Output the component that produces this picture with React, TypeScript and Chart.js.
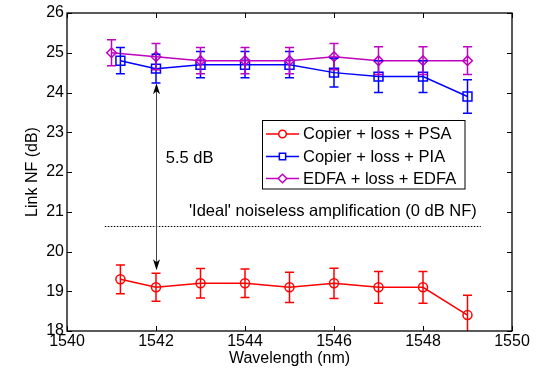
import React, { useEffect, useRef } from "react";
import { Chart, registerables } from "chart.js";

Chart.register(...registerables);

const FONT = '"Liberation Sans", Arial, Helvetica, sans-serif';

const xPsa = [1541.2, 1542, 1543, 1544, 1545, 1546, 1547, 1548, 1549];
const psaNF = [19.3, 19.1, 19.2, 19.2, 19.1, 19.2, 19.1, 19.1, 18.4];
const psaErr = [0.36, 0.35, 0.37, 0.36, 0.38, 0.38, 0.4, 0.4, 0.5];

const xPia = [1541.2, 1542, 1543, 1544, 1545, 1546, 1547, 1548, 1549];
const piaNF = [24.8, 24.6, 24.7, 24.7, 24.7, 24.5, 24.4, 24.4, 23.9];
const piaErr = [0.33, 0.36, 0.33, 0.33, 0.33, 0.36, 0.4, 0.4, 0.42];

const xEdfa = [1541.0, 1542, 1543, 1544, 1545, 1546, 1547, 1548, 1549];
const edfaNF = [25.0, 24.9, 24.8, 24.8, 24.8, 24.9, 24.8, 24.8, 24.8];
const edfaErr = [0.33, 0.33, 0.33, 0.33, 0.33, 0.33, 0.35, 0.35, 0.35];

const seriesLabels = ["Copier + loss + PSA", "Copier + loss + PIA", "EDFA + loss + EDFA"];
const seriesColors = ["#ff0000", "#0000ff", "#bf00bf"];
const seriesMarkers = ["circle", "rect", "rectRot"];
const markerRadius = [4.5, 6.3, 4.8];

const xTicks = [1540, 1542, 1544, 1546, 1548, 1550];
const yTicks = [18, 19, 20, 21, 22, 23, 24, 25, 26];

const idealLevel = 20.65;
const idealRange = [1540.85, 1549.3];
const idealText = "'Ideal' noiseless amplification (0 dB NF)";
const idealTextPos = [1542.74, 21.02];

const gapX = 1542;
const gapRange = [24.23, 19.53];
const gapText = "5.5 dB";
const gapTextPos = [1542.22, 22.35];

const errs = [psaErr, piaErr, edfaErr];

function drawArrowHead(ctx: CanvasRenderingContext2D, x: number, y: number, dir: number) {
  const len = 11;
  const hw = 3.5;
  ctx.beginPath();
  ctx.moveTo(x, y);
  ctx.lineTo(x - hw, y - dir * len);
  ctx.lineTo(x, y - dir * (len - 3));
  ctx.lineTo(x + hw, y - dir * len);
  ctx.closePath();
  ctx.fill();
}

const customPlugin = {
  id: "custom",
  beforeDatasetsDraw(chart: any) {
    const { ctx, scales } = chart;
    const xs = scales.x;
    const ys = scales.y;
    ctx.save();
    ctx.strokeStyle = "#000";
    ctx.lineWidth = 1.2;
    ctx.setLineDash([1.5, 1.5]);
    const yi = Math.round(ys.getPixelForValue(idealLevel)) + 0.5;
    ctx.beginPath();
    ctx.moveTo(xs.getPixelForValue(idealRange[0]), yi);
    ctx.lineTo(xs.getPixelForValue(idealRange[1]), yi);
    ctx.stroke();
    ctx.setLineDash([]);
    const ax = Math.round(xs.getPixelForValue(gapX)) + 0.5;
    const y1 = ys.getPixelForValue(gapRange[0]);
    const y2 = ys.getPixelForValue(gapRange[1]);
    ctx.strokeStyle = "#444";
    ctx.lineWidth = 1;
    ctx.beginPath();
    ctx.moveTo(ax, y1 + 5);
    ctx.lineTo(ax, y2 - 5);
    ctx.stroke();
    ctx.fillStyle = "#000";
    drawArrowHead(ctx, ax, y1, -1);
    drawArrowHead(ctx, ax, y2, 1);
    ctx.font = `16.5px ${FONT}`;
    ctx.textBaseline = "middle";
    ctx.textAlign = "left";
    ctx.fillStyle = "#000";
    ctx.fillText(gapText, xs.getPixelForValue(gapTextPos[0]), ys.getPixelForValue(gapTextPos[1]));
    ctx.fillText(idealText, xs.getPixelForValue(idealTextPos[0]), ys.getPixelForValue(idealTextPos[1]));
    ctx.restore();
  },
  afterDatasetsDraw(chart: any) {
    const { ctx, chartArea: a, scales } = chart;
    const xs = scales.x;
    const ys = scales.y;
    ctx.save();
    ctx.beginPath();
    ctx.rect(a.left, a.top, a.right - a.left, a.bottom - a.top);
    ctx.clip();
    chart.data.datasets.forEach((ds: any, i: number) => {
      const e = errs[i];
      ctx.strokeStyle = ds.borderColor;
      ctx.lineWidth = 1.5;
      ds.data.forEach((p: any, j: number) => {
        const px = xs.getPixelForValue(p.x);
        const top = ys.getPixelForValue(p.y + e[j]);
        const bot = ys.getPixelForValue(p.y - e[j]);
        ctx.beginPath();
        ctx.moveTo(px, top);
        ctx.lineTo(px, bot);
        ctx.moveTo(px - 4.5, top);
        ctx.lineTo(px + 4.5, top);
        ctx.moveTo(px - 4.5, bot);
        ctx.lineTo(px + 4.5, bot);
        ctx.stroke();
      });
    });
    ctx.restore();
  },
  afterDraw(chart: any) {
    const { ctx, chartArea: a, scales } = chart;
    const xs = scales.x;
    const ys = scales.y;
    ctx.save();
    ctx.strokeStyle = "#000";
    ctx.lineWidth = 1.3;
    ctx.strokeRect(a.left, a.top, a.right - a.left, a.bottom - a.top);
    const tl = 5;
    ctx.lineWidth = 1;
    ctx.beginPath();
    xTicks.forEach((v) => {
      const px = Math.round(xs.getPixelForValue(v)) + 0.5;
      ctx.moveTo(px, a.bottom);
      ctx.lineTo(px, a.bottom - tl);
      ctx.moveTo(px, a.top);
      ctx.lineTo(px, a.top + tl);
    });
    yTicks.forEach((v) => {
      const py = Math.round(ys.getPixelForValue(v)) + 0.5;
      ctx.moveTo(a.left, py);
      ctx.lineTo(a.left + tl, py);
      ctx.moveTo(a.right, py);
      ctx.lineTo(a.right - tl, py);
    });
    ctx.stroke();
    const lx = 262.5, ly = 120.5, lw = 202.5, lh = 68.5;
    ctx.fillStyle = "#fff";
    ctx.fillRect(lx, ly, lw, lh);
    ctx.strokeStyle = "#000";
    ctx.lineWidth = 1;
    ctx.strokeRect(lx, ly, lw, lh);
    const rows = [134, 156.5, 178.5];
    ctx.font = `16.5px ${FONT}`;
    ctx.textBaseline = "middle";
    ctx.textAlign = "left";
    chart.data.datasets.forEach((ds: any, i: number) => {
      const ry = rows[i];
      ctx.strokeStyle = ds.borderColor;
      ctx.lineWidth = 1.5;
      ctx.beginPath();
      ctx.moveTo(266, ry);
      ctx.lineTo(299, ry);
      ctx.stroke();
      const mr = i === 1 ? 4.2 : i === 0 ? 3.8 : 4.3;
      ctx.beginPath();
      if (i === 0) {
        ctx.arc(282.5, ry, mr, 0, Math.PI * 2);
      } else if (i === 1) {
        ctx.rect(282.5 - mr * 0.75, ry - mr * 0.75, mr * 1.5, mr * 1.5);
      } else {
        ctx.moveTo(282.5, ry - mr);
        ctx.lineTo(282.5 + mr, ry);
        ctx.lineTo(282.5, ry + mr);
        ctx.lineTo(282.5 - mr, ry);
        ctx.closePath();
      }
      ctx.fillStyle = "#fff";
      ctx.fill();
      ctx.stroke();
      ctx.fillStyle = "#000";
      ctx.fillText(ds.label, 303, ry + 0.5);
    });
    ctx.restore();
  },
};

export default function App() {
  const ref = useRef<HTMLCanvasElement>(null);
  useEffect(() => {
    if (!ref.current) return;
    const mk = (xv: number[], yv: number[]) => xv.map((x, i) => ({ x, y: yv[i] }));
    const dataSets = [mk(xPsa, psaNF), mk(xPia, piaNF), mk(xEdfa, edfaNF)];
    const chart = new Chart(ref.current, {
      type: "line",
      data: {
        datasets: dataSets.map((d, i) => ({
          label: seriesLabels[i],
          data: d,
          borderColor: seriesColors[i],
          backgroundColor: "transparent",
          borderWidth: 1.5,
          pointStyle: seriesMarkers[i] as any,
          pointRadius: markerRadius[i],
          pointBorderWidth: 1.5,
          pointBorderColor: seriesColors[i],
          pointBackgroundColor: "transparent",
          tension: 0,
          fill: false,
          clip: 8,
          order: 3 - i,
        })),
      },
      options: {
        animation: false,
        responsive: false,
        layout: { padding: { top: 13, right: 25, left: 0, bottom: 0 } },
        plugins: { legend: { display: false }, tooltip: { enabled: false } },
        scales: {
          x: {
            type: "linear",
            min: 1540,
            max: 1550,
            afterFit: (s: any) => { s.height = 40; },
            afterBuildTicks: (s: any) => { s.ticks = xTicks.map((v) => ({ value: v })); },
            grid: { display: false, drawTicks: false },
            border: { display: false },
            ticks: { autoSkip: false, maxRotation: 0, padding: 1, color: "#000", font: { family: FONT, size: 16 }, callback: (v: any) => String(v) },
            title: { display: true, text: "Wavelength (nm)", color: "#000", font: { family: FONT, size: 16 }, padding: { top: 0, bottom: 3 } },
          },
          y: {
            type: "linear",
            min: 18,
            max: 26,
            afterFit: (s: any) => { s.width = 67; },
            afterBuildTicks: (s: any) => { s.ticks = yTicks.map((v) => ({ value: v })); },
            grid: { display: false, drawTicks: false },
            border: { display: false },
            ticks: { autoSkip: false, padding: 3, color: "#000", font: { family: FONT, size: 16 }, callback: (v: any) => String(v) },
            title: { display: true, text: "Link NF (dB)", color: "#000", font: { family: FONT, size: 16 }, padding: { top: 23, bottom: 0 } },
          },
        },
      },
      plugins: [customPlugin],
    });
    return () => chart.destroy();
  }, []);
  return (
    <div style={{ position: "absolute", left: 0, top: 0, width: 537, height: 371, background: "#fff" }}>
      <canvas ref={ref} width={537} height={371} style={{ display: "block" }} />
    </div>
  );
}
